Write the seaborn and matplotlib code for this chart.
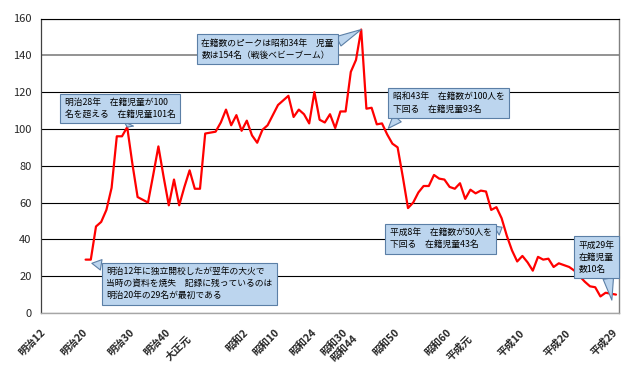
import numpy as np
import pandas as pd
import matplotlib
matplotlib.use("Agg")
import matplotlib.pyplot as plt
import matplotlib.transforms as mtransforms
import seaborn as sns

# ---- data (category index = position on the category axis) ----
enrollment = [None, None, None, None, None, None, None, None,
              29, 29, 47, 49.5, 56, 68, 96, 96, 101, 81, 63, 61.5,
              60, 75, 90.5, 74, 58.5, 72.5, 58.5, 68.5, 77.5, 67.5,
              67.5, 97.5, 98, 98.5, 103.5, 110.5, 102, 107.5, 99, 104.5,
              96.5, 92.5, 99.5, 102, 107.5, 113, 115.5, 118, 106.5, 110.5,
              108, 103, 120, 105, 103.5, 108, 100.5, 109.5, 109.5, 131,
              137.5, 154, 111, 111.5, 102.5, 103, 97, 92, 90, 74,
              57, 60, 65.5, 69, 69, 75, 73, 72.5, 68.5, 67.5,
              70.5, 62, 67, 65, 66.5, 66, 56, 57.5, 51.5, 42,
              34, 28, 31, 27.5, 23, 30.5, 29, 29.5, 25, 27,
              26, 25, 23, 20, 17, 14.5, 14, 9, 11, 10.5,
              10]

tick_labels = ["明治12", "明治20", "明治30", "明治40", "大正元", "昭和2", "昭和10",
               "昭和24", "昭和30", "昭和44", "昭和50", "昭和60", "平成元", "平成10",
               "平成20", "平成29"]
tick_index = [0, 8, 17, 24, 28, 39, 45, 52, 58, 60, 68, 78, 82, 92, 101, 110]
lowered_labels = ["大正元", "昭和44", "平成元"]

y_ticks = [0, 20, 40, 60, 80, 100, 120, 140, 160]

notes = [
    "明治28年　在籍児童が100\n名を超える　在籍児童101名",
    "明治12年に独立開校したが翌年の大火で\n当時の資料を焼失　記録に残っているのは\n明治20年の29名が最初である",
    "在籍数のピークは昭和34年　児童\n数は154名（戦後ベビーブーム）",
    "昭和43年　在籍数が100人を\n下回る　在籍児童93名",
    "平成8年　在籍数が50人を\n下回る　在籍児童43名",
    "平成29年\n在籍児童\n数10名",
]
note_target = [(16, 101), (9.2, 27), (61, 154), (66.2, 100.3), (88.1, 46.6), (109.2, 7)]
note_box = [(14.6, 111.1), (27.9, 16.0), (43.0, 143.4), (77.8, 114.1), (76.3, 40.4), (106.3, 30.4)]
note_relpos = [(0.6, 0.0), (0.05, 1.0), (1.0, 0.75), (0.08, 0.0), (1.0, 0.75), (0.8, 0.0)]

# ---- figure ----
sns.set_style("white")
plt.rcParams["font.family"] = ["Noto Sans CJK JP", "DejaVu Sans"]

fig = plt.figure(figsize=(6.4, 3.72), dpi=100)
ax = fig.add_axes([41.4 / 640, 1 - 313 / 372, (618.6 - 41.4) / 640, (313 - 18.5) / 372])

df = pd.DataFrame({"idx": np.arange(len(enrollment)),
                   "value": pd.array(enrollment, dtype="Float64").astype(float)}).dropna()
sns.lineplot(data=df, x="idx", y="value", ax=ax, color="#ff0000", linewidth=1.6,
             estimator=None, sort=False, legend=False, zorder=3)

ax.set_xlim(-0.5, len(enrollment) - 0.5)
ax.set_ylim(0, 160)
ax.set_yticks(y_ticks)
ax.set_yticklabels([str(v) for v in y_ticks], fontsize=8)
ax.set_xticks(tick_index)
ax.set_xticklabels(tick_labels, rotation=45, ha="right", va="center",
                   rotation_mode="anchor", fontsize=7.5, fontweight="bold")
ax.tick_params(axis="x", length=0, pad=13)
ax.tick_params(axis="y", length=0, pad=7)
for lab in ax.get_xticklabels():
    if lab.get_text() in lowered_labels:
        lab.set_transform(lab.get_transform() +
                          mtransforms.ScaledTranslation(0, -4 / 72, fig.dpi_scale_trans))
ax.set_xlabel("")
ax.set_ylabel("")

ax.yaxis.grid(True, color="black", linewidth=0.8)
ax.xaxis.grid(False)
for gl, v in zip(ax.get_ygridlines(), y_ticks):
    if v == 140:
        gl.set_color("#808080")
        gl.set_linewidth(1.2)
ax.set_axisbelow(True)

ax.spines["top"].set_color("black")
ax.spines["top"].set_linewidth(0.8)
ax.spines["left"].set_color("#404040")
ax.spines["left"].set_linewidth(0.9)
ax.spines["right"].set_color("#808080")
ax.spines["right"].set_linewidth(1.0)
ax.spines["bottom"].set_color("#a6a6a6")
ax.spines["bottom"].set_linewidth(1.0)

fc = "#bcd5ee"
ec = "#5b7fa6"
for txt, tgt, box, rp in zip(notes, note_target, note_box, note_relpos):
    ax.annotate(txt, xy=tgt, xytext=box, xycoords="data", textcoords="data",
                ha="center", va="center", multialignment="left", fontsize=6.3,
                linespacing=1.45, color="black", zorder=5, annotation_clip=False,
                bbox=dict(boxstyle="square,pad=0.5", fc=fc, ec=ec, lw=0.8),
                arrowprops=dict(arrowstyle="wedge,tail_width=1.2,shrink_factor=0.5",
                                fc=fc, ec=ec, lw=0.8, relpos=rp,
                                shrinkA=0, shrinkB=0, mutation_scale=6.3))

fig.savefig("out.png", dpi=100)
